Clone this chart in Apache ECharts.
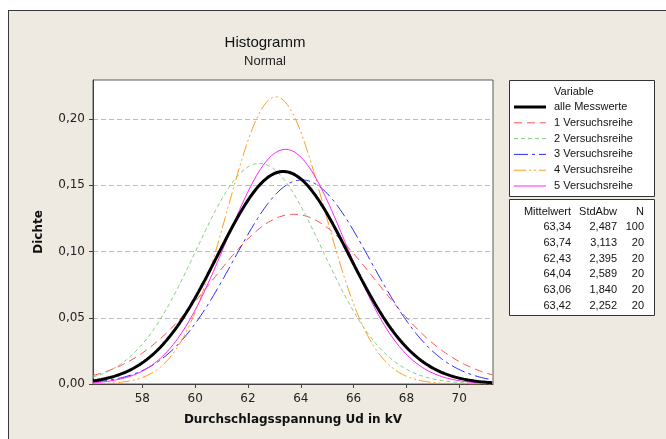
<!DOCTYPE html>
<html>
<head>
<meta charset="utf-8">
<script src="https://cdn.jsdelivr.net/npm/echarts@6/dist/echarts.min.js"></script>
<style>
  html, body { margin: 0; padding: 0; background: #ffffff; }
  #wrap { position: relative; width: 666px; height: 439px; overflow: hidden; background: #ffffff; }
  #frame { position: absolute; left: 8px; top: 10px; width: 700px; height: 500px;
           background: #EEEAE1; border: 1px solid #3a3a3a; }
  #chart { position: absolute; left: 0; top: 0; width: 666px; height: 439px; }
</style>
</head>
<body>
<div id="wrap">
  <div id="frame"></div>
  <div id="chart"></div>
</div>
<script>
// Fitted normal distributions of breakdown voltage, one per test series
const seriesNames = ['alle Messwerte', '1 Versuchsreihe', '2 Versuchsreihe', '3 Versuchsreihe', '4 Versuchsreihe', '5 Versuchsreihe'];
const means   = [63.34, 63.74, 62.43, 64.04, 63.06, 63.42];
const stdDevs = [2.487, 3.113, 2.395, 2.589, 1.840, 2.252];
const counts  = [100, 20, 20, 20, 20, 20];
const xTicks = [58, 60, 62, 64, 66, 68, 70];
const yTicks = [0, 0.05, 0.10, 0.15, 0.20];
const xRange = [56.13, 71.28];
const yMax = 0.2295;

const colors = ['#000000', '#FF5050', '#80CC80', '#2A2AFF', '#FF9A1A', '#FF22FF'];
const widths = [3, 1, 1, 1, 1, 1];
const dashes = ['solid', [8, 5], [4, 3], [14, 4, 3, 4], [12, 3, 2, 3, 2, 3], 'solid'];

const FONT = '"DejaVu Sans", sans-serif';
const SMALL = '"Liberation Sans", Arial, sans-serif';

const fmt = (v, d) => v.toFixed(d).replace('.', ',');

// normal density curve sampled across the axis range
function densityCurve(mu, sd) {
  const pts = [];
  const step = 0.04;
  for (let x = xRange[0]; x <= xRange[1] + 1e-9; x += step) {
    const z = (x - mu) / sd;
    pts.push([x, Math.exp(-0.5 * z * z) / (sd * Math.sqrt(2 * Math.PI))]);
  }
  return pts;
}

// draw order: thin series first, combined curve on top
const order = [1, 2, 3, 4, 5, 0];
const series = order.map(i => ({
  name: seriesNames[i],
  type: 'line',
  showSymbol: false,
  symbol: 'none',
  smooth: false,
  clip: true,
  z: i === 0 ? 5 : 3,
  lineStyle: { color: colors[i], width: widths[i], type: dashes[i] },
  data: densityCurve(means[i], stdDevs[i])
}));

// legend box and statistics table
const legendX = 509, legendY = 80, boxW = 145;
const graphics = [];
graphics.push({ type: 'rect', shape: { x: legendX + 0.5, y: legendY + 0.5, width: boxW, height: 116 },
  style: { fill: '#ffffff', stroke: '#333333', lineWidth: 1 }, z: 1 });
graphics.push({ type: 'text', x: 554, y: 92, style: { text: 'Variable', font: '11px ' + SMALL, fill: '#111', textVerticalAlign: 'middle' }, z: 2 });
seriesNames.forEach((n, i) => {
  const y = 107 + i * 15.8;
  graphics.push({ type: 'line', shape: { x1: 514, y1: y, x2: 546, y2: y },
    style: { stroke: colors[i], lineWidth: widths[i], lineDash: dashes[i] === 'solid' ? null : dashes[i] }, z: 2 });
  graphics.push({ type: 'text', x: 554, y: y, style: { text: n, font: '11px ' + SMALL, fill: '#111', textVerticalAlign: 'middle' }, z: 2 });
});

const tableY = 199;
graphics.push({ type: 'rect', shape: { x: legendX + 0.5, y: tableY + 0.5, width: boxW, height: 116 },
  style: { fill: '#ffffff', stroke: '#333333', lineWidth: 1 }, z: 1 });
const colRight = [571, 617, 644];
const headers = ['Mittelwert', 'StdAbw', 'N'];
headers.forEach((h, c) => {
  graphics.push({ type: 'text', x: colRight[c], y: 212, style: { text: h, font: '11px ' + SMALL, fill: '#111', textAlign: 'right', textVerticalAlign: 'middle' }, z: 2 });
});
means.forEach((m, i) => {
  const y = 227 + i * 15.8;
  const cells = [fmt(m, 2), fmt(stdDevs[i], 3), String(counts[i])];
  cells.forEach((t, c) => {
    graphics.push({ type: 'text', x: colRight[c], y: y, style: { text: t, font: '11px ' + SMALL, fill: '#111', textAlign: 'right', textVerticalAlign: 'middle' }, z: 2 });
  });
});

const chart = echarts.init(document.getElementById('chart'), null, { renderer: 'canvas' });
chart.setOption({
  backgroundColor: 'transparent',
  animation: false,
  title: {
    text: 'Histogramm',
    subtext: 'Normal',
    left: 265,
    top: 35,
    textAlign: 'center',
    itemGap: 5,
    padding: 0,
    textStyle: { fontFamily: SMALL, fontSize: 15, fontWeight: 'normal', color: '#111' },
    subtextStyle: { fontFamily: SMALL, fontSize: 13, color: '#222' }
  },
  grid: {
    left: 93, top: 80, right: 173, bottom: 55,
    show: true, backgroundColor: '#ffffff', borderColor: '#5a5a5a', borderWidth: 1,
    containLabel: false
  },
  xAxis: {
    type: 'value',
    min: xRange[0], max: xRange[1],
    name: 'Durchschlagsspannung Ud in kV',
    nameLocation: 'middle',
    nameGap: 30,
    nameTextStyle: { fontFamily: FONT, fontSize: 12, fontWeight: 'bold', color: '#111' },
    axisLine: { show: true, onZero: false, lineStyle: { color: '#404040', width: 1 } },
    axisTick: { show: true, inside: false, length: 4, customValues: xTicks, lineStyle: { color: '#404040' } },
    axisLabel: { customValues: xTicks, margin: 9, fontFamily: FONT, fontSize: 12, color: '#222' },
    splitLine: { show: false }
  },
  yAxis: {
    type: 'value',
    min: 0, max: yMax, interval: 0.05,
    name: 'Dichte',
    nameLocation: 'middle',
    nameGap: 48,
    nameRotate: 90,
    nameTextStyle: { fontFamily: FONT, fontSize: 12, fontWeight: 'bold', color: '#111' },
    axisLine: { show: true, lineStyle: { color: '#404040', width: 1 } },
    axisTick: { show: true, inside: false, length: 4, customValues: yTicks, lineStyle: { color: '#404040' } },
    axisLabel: { customValues: yTicks, margin: 8, fontFamily: FONT, fontSize: 12, color: '#222',
      formatter: v => fmt(v, 2) },
    splitLine: { show: true, lineStyle: { color: '#BDBDBD', type: [5, 3], width: 1 } }
  },
  graphic: graphics,
  series: series
});
</script>
</body>
</html>
